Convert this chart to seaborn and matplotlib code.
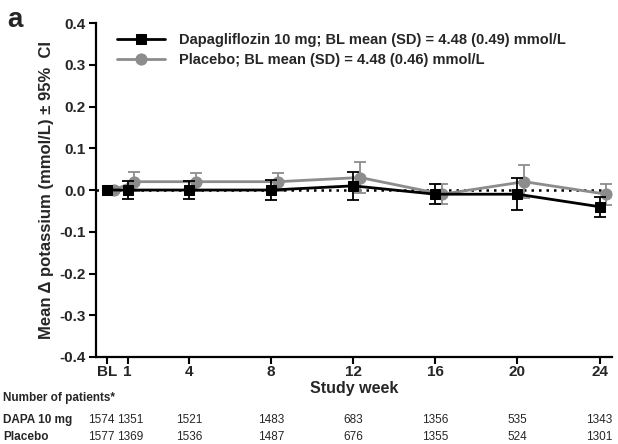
import numpy as np
import pandas as pd
import matplotlib
matplotlib.use("Agg")
import matplotlib.pyplot as plt
import matplotlib.transforms as mtransforms
import seaborn as sns

weeks = [0, 1, 4, 8, 12, 16, 20, 24]
week_labels = ["BL", "1", "4", "8", "12", "16", "20", "24"]
y_ticks = [-0.4, -0.3, -0.2, -0.1, 0.0, 0.1, 0.2, 0.3, 0.4]

dapa_mean = [0.0, 0.0, 0.0, 0.0, 0.01, -0.01, -0.01, -0.04]
dapa_lo = [0.0, -0.022, -0.022, -0.023, -0.025, -0.034, -0.048, -0.065]
dapa_hi = [0.0, 0.022, 0.021, 0.023, 0.044, 0.015, 0.028, -0.016]

plac_mean = [0.0, 0.02, 0.02, 0.02, 0.03, -0.01, 0.02, -0.01]
plac_lo = [0.0, -0.003, -0.002, -0.002, -0.006, -0.034, -0.018, -0.035]
plac_hi = [0.0, 0.043, 0.042, 0.042, 0.067, 0.014, 0.059, 0.015]

dapa_n = [1574, 1351, 1521, 1483, 683, 1356, 535, 1343]
plac_n = [1577, 1369, 1536, 1487, 676, 1355, 524, 1301]

dapa_label = "Dapagliflozin 10 mg; BL mean (SD) = 4.48 (0.49) mmol/L"
plac_label = "Placebo; BL mean (SD) = 4.48 (0.46) mmol/L"

sns.set_style("ticks")
plt.rcParams["font.family"] = ["Liberation Sans", "DejaVu Sans"]

shift = 0.33  # placebo drawn a bit to the right
df = pd.concat([
    pd.DataFrame({"week": weeks, "change": dapa_mean, "grp": dapa_label}),
    pd.DataFrame({"week": np.array(weeks) + shift, "change": plac_mean, "grp": plac_label}),
])

fig = plt.figure(figsize=(6.18, 4.44), dpi=100)
ax = fig.add_axes([0.155, 0.196, 0.835, 0.752])

ax.axhline(0, color="black", ls=(0, (1, 2)), lw=1.8, zorder=1)

grey = "#8c8c8c"
w = np.array(weeks[1:])
ax.errorbar(w + shift, plac_mean[1:],
            yerr=[np.array(plac_mean[1:]) - np.array(plac_lo[1:]),
                  np.array(plac_hi[1:]) - np.array(plac_mean[1:])],
            fmt="none", ecolor=grey, elinewidth=1.3, capsize=4, capthick=1.3, zorder=2)
ax.errorbar(w, dapa_mean[1:],
            yerr=[np.array(dapa_mean[1:]) - np.array(dapa_lo[1:]),
                  np.array(dapa_hi[1:]) - np.array(dapa_mean[1:])],
            fmt="none", ecolor="black", elinewidth=1.3, capsize=4, capthick=1.3, zorder=4)

sns.lineplot(data=df[df.grp == plac_label], x="week", y="change", ax=ax,
             color=grey, lw=2, marker="o", markersize=8, markeredgecolor=grey,
             label=plac_label, zorder=3)
sns.lineplot(data=df[df.grp == dapa_label], x="week", y="change", ax=ax,
             color="black", lw=2, marker="s", markersize=7.5, markeredgecolor="black",
             label=dapa_label, zorder=5)

ax.set_xlim(-0.55, 24.6)
ax.set_ylim(-0.4, 0.4)
ax.set_xticks(weeks)
ax.set_xticklabels(week_labels)
ax.set_yticks(y_ticks)
ax.set_yticklabels([f"{v:.1f}" for v in y_ticks])
for lab in ax.get_xticklabels() + ax.get_yticklabels():
    lab.set_fontweight("bold")
    lab.set_fontsize(11)
ax.tick_params(width=1.5, length=5, color="black", pad=2)
ax.tick_params(axis="x", pad=1)
for s in ["left", "bottom"]:
    ax.spines[s].set_linewidth(1.6)
    ax.spines[s].set_color("black")
sns.despine(ax=ax)

ax.set_xlabel("Study week", fontsize=11.5, fontweight="bold", labelpad=1)
ax.set_ylabel("Mean \u0394 potassium (mmol/L) \u00b1 95%  CI", fontsize=12,
              fontweight="bold", labelpad=4)

h, l = ax.get_legend_handles_labels()
order = [l.index(dapa_label), l.index(plac_label)]
leg = ax.legend([h[i] for i in order], [l[i] for i in order], loc="upper left",
                bbox_to_anchor=(0.015, 1.01), frameon=False, fontsize=10.5,
                handlelength=3.3, handletextpad=1.0, labelspacing=0.45)
for t in leg.get_texts():
    t.set_fontweight("semibold")

fig.text(0.012, 0.985, "a", fontsize=20, fontweight="bold", va="top")

# number of patients table
fig.text(0.005, 0.096, "Number of patients*", fontsize=8.5, fontweight="bold")
fig.text(0.005, 0.047, "DAPA 10 mg", fontsize=8.5, fontweight="bold")
fig.text(0.005, 0.008, "Placebo", fontsize=8.5, fontweight="bold")
trans = mtransforms.blended_transform_factory(ax.transData, fig.transFigure)
offsets = [-6, 3, 0, 0, 0, 0, 0, 0]
for wk, nd, npl, off in zip(weeks, dapa_n, plac_n, offsets):
    tr = trans + mtransforms.ScaledTranslation(off / 100, 0, fig.dpi_scale_trans)
    ax.text(wk, 0.047, str(nd), transform=tr, ha="center", fontsize=8.5, clip_on=False)
    ax.text(wk, 0.008, str(npl), transform=tr, ha="center", fontsize=8.5, clip_on=False)

fig.savefig("out.png", dpi=100)
